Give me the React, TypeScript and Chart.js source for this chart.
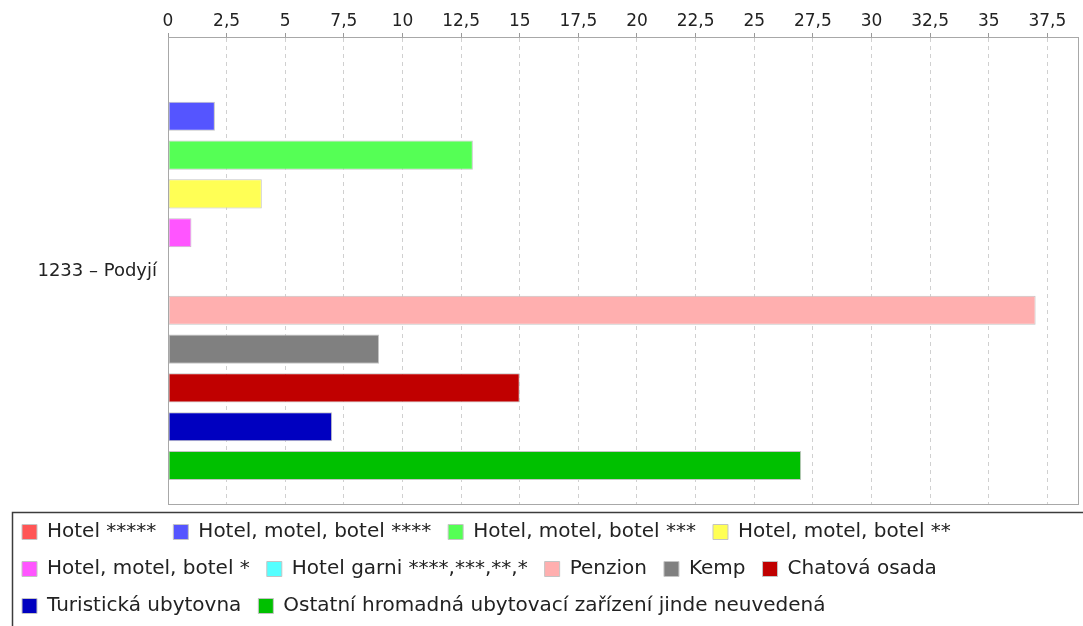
import React, { useEffect, useRef } from "react";
import { Chart, registerables } from "chart.js";

Chart.register(...registerables);

const categories = ["1233 – Podyjí"];
const seriesNames = [
  "Hotel *****",
  "Hotel, motel, botel ****",
  "Hotel, motel, botel ***",
  "Hotel, motel, botel **",
  "Hotel, motel, botel *",
  "Hotel garni ****,***,**,*",
  "Penzion",
  "Kemp",
  "Chatová osada",
  "Turistická ubytovna",
  "Ostatní hromadná ubytovací zařízení jinde neuvedená",
];
const seriesValues = [0, 2, 13, 4, 1, 0, 37, 9, 15, 7, 27];
const seriesColors = [
  "#FF5555",
  "#5555FF",
  "#55FF55",
  "#FFFF55",
  "#FF55FF",
  "#55FFFF",
  "#FFAFAF",
  "#808080",
  "#C00000",
  "#0000C0",
  "#00C000",
];
const axisMax = 38.85;
const axisStep = 2.5;

const framePlugin = {
  id: "frame",
  afterDatasetsDraw(chart: any) {
    const { ctx, chartArea } = chart;
    ctx.save();
    ctx.strokeStyle = "#a8a8a8";
    ctx.lineWidth = 1;
    const l = Math.round(chartArea.left) + 0.5;
    const t = Math.round(chartArea.top) - 0.5;
    const r = Math.round(chartArea.right) - 0.5;
    const b = Math.round(chartArea.bottom) - 0.5;
    ctx.strokeRect(l, t, r - l, b - t);
    ctx.restore();
  },
  afterDraw(chart: any) {
    const { ctx } = chart;
    const legend = chart.legend;
    if (!legend) return;
    ctx.save();
    ctx.strokeStyle = "#3c3c3c";
    ctx.lineWidth = 1.5;
    ctx.strokeRect(12.5, legend.top + 7.5, chart.width + 50, 300);
    ctx.restore();
  },
};

export default function App() {
  const ref = useRef<HTMLCanvasElement | null>(null);

  useEffect(() => {
    if (!ref.current) return;
    const chart = new Chart(ref.current, {
      type: "bar",
      data: {
        labels: categories,
        datasets: seriesNames.map((name, i) => ({
          label: name,
          data: [seriesValues[i]],
          backgroundColor: seriesColors[i],
          borderColor: "#c4c4c4",
          borderWidth: 1,
          borderSkipped: false,
          categoryPercentage: 0.914,
          barPercentage: 0.75,
        })),
      },
      options: {
        indexAxis: "y",
        animation: false,
        responsive: true,
        maintainAspectRatio: false,
        layout: { padding: { left: 5, right: 4, top: 0, bottom: 0 } },
        plugins: {
          tooltip: { enabled: false },
          legend: {
            position: "bottom",
            align: "start",
            labels: {
              font: { family: "DejaVu Sans", size: 20 },
              color: "#222",
              boxWidth: 15,
              boxHeight: 15,
              padding: 17,
            },
          },
        },
        scales: {
          x: {
            position: "top",
            min: 0,
            max: axisMax,
            afterFit(scale: any) {
              scale.height = 38;
            },
            ticks: {
              stepSize: axisStep,
              includeBounds: false,
              padding: 1,
              color: "#222",
              font: { family: "DejaVu Sans", size: 17 },
              callback: (v: any) => String(v).replace(".", ","),
            },
            grid: {
              color: "#d0d0d0",
              tickBorderDash: [],
              tickColor: "#999",
              tickLength: 5,
              drawTicks: true,
            },
            border: { display: false, dash: [4, 4] },
          },
          y: {
            afterFit(scale: any) {
              scale.width = 163;
            },
            ticks: {
              padding: 11,
              color: "#222",
              font: { family: "DejaVu Sans", size: 18 },
            },
            grid: { display: false, drawTicks: false },
            border: { display: false },
          },
        },
      },
      plugins: [framePlugin],
    } as any);
    return () => chart.destroy();
  }, []);

  return (
    <div style={{ position: "absolute", left: 0, top: 0, width: 1083, height: 626, background: "#fff" }}>
      <canvas ref={ref} />
    </div>
  );
}
